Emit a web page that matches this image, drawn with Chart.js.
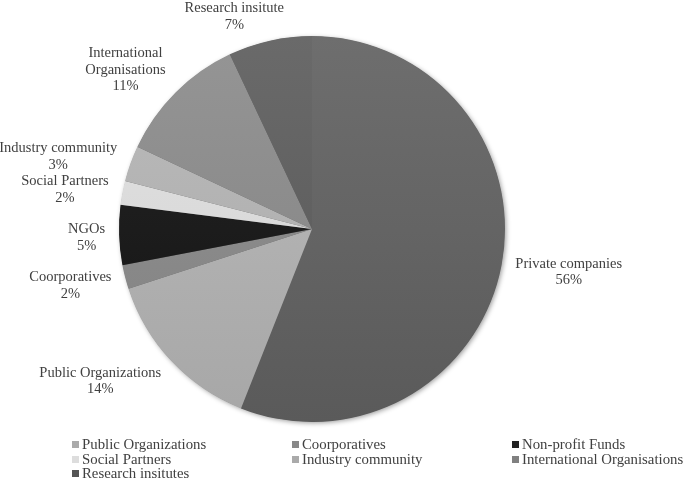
<!DOCTYPE html>
<html>
<head>
<meta charset="utf-8">
<script src="https://cdn.jsdelivr.net/npm/chart.js@4/dist/chart.umd.min.js"></script>
<style>
  body { margin: 0; background: #fff; }
  #wrap { position: relative; width: 685px; height: 479px; }
  #legend {
    position: absolute; left: 72px; top: 437px;
    display: grid; grid-template-columns: 220px 220px 173px;
    font: 14.8px "Liberation Serif", "Times New Roman", serif; color: #404040;
  }
  .item { white-space: nowrap; line-height: 14.5px; height: 14.5px; }
  .item span { display: inline-block; width: 7px; height: 7px; margin-right: 3px; vertical-align: 1px; }
</style>
</head>
<body>
<div id="wrap">
  <canvas id="pieChart" width="685" height="479"></canvas>
  <div id="legend"></div>
</div>
<script>
// slice data, clockwise from the top
var categories = ['Private companies', 'Public Organizations', 'Coorporatives', 'NGOs',
                  'Social Partners', 'Industry community', 'International Organisations', 'Research insitute'];
var shares = [56, 14, 2, 5, 2, 3, 11, 7];
var sliceColors = ['#646464', '#b1b1b1', '#8a8a8a', '#1c1c1c', '#dadada', '#b2b2b2', '#8b8b8b', '#606060'];

// legend (Private companies is not listed in the original)
var legendNames = ['Public Organizations', 'Coorporatives', 'Non-profit Funds', 'Social Partners',
                   'Industry community', 'International Organisations', 'Research insitutes'];
var legendColors = ['#aaaaaa', '#888888', '#222222', '#dddddd', '#aaaaaa', '#808080', '#555555'];

function shade(hex, amt) {
    var n = parseInt(hex.slice(1), 16);
    var r = Math.min(255, Math.max(0, (n >> 16) + amt));
    var g = Math.min(255, Math.max(0, ((n >> 8) & 255) + amt));
    var b = Math.min(255, Math.max(0, (n & 255) + amt));
    return 'rgb(' + r + ',' + g + ',' + b + ')';
}

function wrapText(ctx, text, maxW) {
    var words = text.split(' '), lines = [], cur = '';
    words.forEach(function (w) {
        var t = cur ? cur + ' ' + w : w;
        if (cur && ctx.measureText(t).width > maxW) { lines.push(cur); cur = w; }
        else cur = t;
    });
    lines.push(cur);
    return lines;
}

// soft shadow under the whole pie
var pieShadow = {
    id: 'pieShadow',
    beforeDatasetsDraw: function (chart) {
        var arc = chart.getDatasetMeta(0).data[0];
        if (!arc) return;
        var ctx = chart.ctx;
        ctx.save();
        ctx.shadowColor = 'rgba(0,0,0,0.4)';
        ctx.shadowBlur = 5;
        ctx.shadowOffsetX = 1.5;
        ctx.shadowOffsetY = 1.5;
        ctx.fillStyle = '#666';
        ctx.beginPath();
        ctx.arc(arc.x, arc.y, arc.outerRadius - 0.5, 0, Math.PI * 2);
        ctx.fill();
        ctx.restore();
    }
};

// outside labels: name + percentage
var outLabels = {
    id: 'outLabels',
    afterDatasetsDraw: function (chart) {
        var ctx = chart.ctx;
        var meta = chart.getDatasetMeta(0);
        var total = shares.reduce(function (a, b) { return a + b; }, 0);
        ctx.save();
        ctx.font = '14.5px "Liberation Serif", "Times New Roman", serif';
        ctx.fillStyle = '#404040';
        ctx.textAlign = 'center';
        ctx.textBaseline = 'middle';
        meta.data.forEach(function (arc, i) {
            var mid = (arc.startAngle + arc.endAngle) / 2;
            var cos = Math.cos(mid), sin = Math.sin(mid);
            var ax = arc.x + cos * (arc.outerRadius + 14);
            var ay = arc.y + sin * (arc.outerRadius + 10);
            var lines = wrapText(ctx, categories[i], 140);
            lines.push(Math.round(shares[i] / total * 100) + '%');
            var w = Math.max.apply(null, lines.map(function (l) { return ctx.measureText(l).width; }));
            var lh = 16.5, h = lines.length * lh;
            var k = Math.max(-1, Math.min(1, cos * 3));
            var cx = ax + k * w / 2;
            var cy = ay + sin * h / 2 + 2;
            lines.forEach(function (l, j) {
                ctx.fillText(l, cx, cy - h / 2 + lh * (j + 0.5));
            });
        });
        ctx.restore();
    }
};

var pieChart = document.getElementById('pieChart').getContext('2d');
var chart = new Chart(pieChart, {
    type: 'pie',
    data: {
        labels: categories,
        datasets: [{
            data: shares,
            borderWidth: 0,
            backgroundColor: function (c) {
                var area = c.chart.chartArea;
                var base = sliceColors[c.dataIndex];
                if (!area) return base;
                var g = c.chart.ctx.createLinearGradient(0, area.top, 0, area.bottom);
                g.addColorStop(0, shade(base, 10));
                g.addColorStop(1, shade(base, -10));
                return g;
            }
        }]
    },
    options: {
        responsive: false,
        animation: false,
        layout: { padding: { top: 36, bottom: 57, left: 0, right: 61 } },
        plugins: {
            legend: { display: false },
            tooltip: { enabled: false }
        }
    },
    plugins: [pieShadow, outLabels]
});

// html legend in three columns
var legend = document.getElementById('legend');
legendNames.forEach(function (name, i) {
    var d = document.createElement('div');
    d.className = 'item';
    d.innerHTML = '<span style="background:' + legendColors[i] + '"></span>' + name;
    legend.appendChild(d);
});
</script>
</body>
</html>
